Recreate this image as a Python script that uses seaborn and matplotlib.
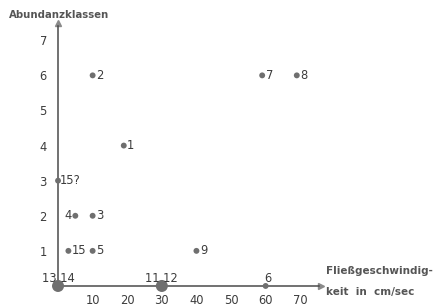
import matplotlib
matplotlib.use("Agg")
import matplotlib.pyplot as plt
import seaborn as sns
import pandas as pd

# data
point_labels = ["1", "2", "3", "4", "5", "6", "7", "8", "9", "11 12", "13 14", "15", "15?"]
flow_speed = [19, 10, 10, 5, 10, 60, 59, 69, 40, 30, 0, 3, 0]
abundance = [4, 6, 2, 2, 1, 0, 6, 6, 1, 0, 0, 1, 3]
n_stations = [1, 1, 1, 1, 1, 1, 1, 1, 1, 2, 2, 1, 1]
x_ticks = [10, 20, 30, 40, 50, 60, 70]
y_ticks = [1, 2, 3, 4, 5, 6, 7]

# label placement (style only)
label_offsets = {
    "1": (2.5, 0, "left", "center"), "2": (2.5, 0, "left", "center"),
    "3": (2.5, 0, "left", "center"), "4": (-2.5, 0, "right", "center"),
    "5": (2.5, 0, "left", "center"), "6": (1.5, 1, "center", "bottom"),
    "7": (2.5, 0, "left", "center"), "8": (2.5, 0, "left", "center"),
    "9": (2.5, 0, "left", "center"), "11 12": (0, 1, "center", "bottom"),
    "13 14": (0, 1, "center", "bottom"), "15": (2.5, 0, "left", "center"),
    "15?": (1.5, 0, "left", "center"),
}

df = pd.DataFrame({"x": flow_speed, "y": abundance, "n": n_stations, "label": point_labels})

sns.set_style("white")
plt.rcParams["font.family"] = ["DejaVu Sans"]

ink = "#3c3c3c"
dot = "#6f6f6f"

fig = plt.figure(figsize=(4.39, 3.06), dpi=100)
ax = fig.add_axes([30 / 439, 6 / 306, 300 / 439, 285 / 306])
ax.set_xlim(-8.1, 78.6)
ax.set_ylim(-0.4, 7.72)

sns.scatterplot(data=df, x="x", y="y", size="n", sizes={1: 18, 2: 75},
                color=dot, edgecolor="none", legend=False, ax=ax, zorder=3, clip_on=False)

for lab, xv, yv in zip(point_labels, flow_speed, abundance):
    dx, dy, ha, va = label_offsets[lab]
    ax.annotate(lab, (xv, yv), xytext=(dx, dy), textcoords="offset points",
                ha=ha, va=va, fontsize=8.3, color=ink, annotation_clip=False)

for side in ["top", "right"]:
    ax.spines[side].set_visible(False)
ax.spines["bottom"].set_position(("data", 0))
ax.spines["left"].set_position(("data", 0))
ax.spines["bottom"].set_bounds(-1, 75.5)
ax.spines["left"].set_bounds(0, 7.4)
for side in ["bottom", "left"]:
    ax.spines[side].set_color("#4a4a4a")
    ax.spines[side].set_linewidth(1.1)

# arrow heads
ax.plot([76.0], [0], marker=">", color="#8a8a8a", markersize=5, clip_on=False)
ax.plot([0], [7.5], marker="^", color="#8a8a8a", markersize=5, clip_on=False)

ax.set_xticks(x_ticks)
ax.set_yticks(y_ticks)
ax.set_xticklabels([str(t) for t in x_ticks])
ax.set_yticklabels([str(t) for t in y_ticks])
ax.tick_params(axis="x", direction="out", length=4, width=1, color="#4a4a4a",
               labelsize=8.3, labelcolor=ink, pad=2)
ax.tick_params(axis="y", direction="out", length=5, width=1, color="#4a4a4a",
               labelsize=8.3, labelcolor=ink, pad=3)
ax.set_xlabel("")
ax.set_ylabel("")

fig.text(9 / 439, 1 - 15 / 306, "Abundanzklassen", fontsize=7.3, fontweight="bold",
         color="#555555", ha="left", va="center")
fig.text(326 / 439, 1 - 271 / 306, "Fließgeschwindig-", fontsize=7.5, fontweight="bold",
         color="#555555", ha="left", va="center")
fig.text(326 / 439, 1 - 292 / 306, "keit  in  cm/sec", fontsize=7.5, fontweight="bold",
         color="#555555", ha="left", va="center")

fig.savefig("out.png", dpi=100, facecolor="white")
